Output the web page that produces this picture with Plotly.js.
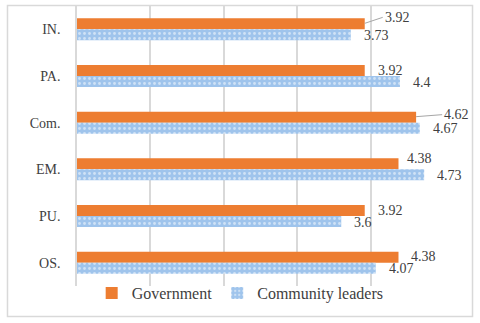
<!DOCTYPE html>
<html>
<head>
<meta charset="utf-8">
<script src="https://cdn.plot.ly/plotly-3.0.1.min.js"></script>
<style>
  html, body { margin: 0; padding: 0; background: #fff; }
  #graph { width: 480px; height: 323px; }
</style>
</head>
<body>
<div id="graph"></div>
<script>
// données
var categories = ['IN.', 'PA.', 'Com.', 'EM.', 'PU.', 'OS.'];
var government = [3.92, 3.92, 4.62, 4.38, 3.92, 4.38];
var leaders = [3.73, 4.4, 4.67, 4.73, 3.6, 4.07];

var orange = '#ed7d31';
var bleu = '#9fc4ec';
var texte = '#404040';
var police = 'Liberation Serif';

var data = [{
	type: 'bar',
	orientation: 'h',
	name: 'Government',
	y: categories,
	x: government,
	marker: {color: orange},
	hoverinfo: 'x+y'
}, {
	type: 'bar',
	orientation: 'h',
	name: 'Community leaders',
	y: categories,
	x: leaders,
	marker: {
		color: bleu,
		pattern: {shape: '.', fillmode: 'overlay', fgcolor: '#ffffff', size: 5, solidity: 0.25}
	},
	hoverinfo: 'x+y'
}];

// étiquettes de valeurs (décalages en pixels, repris de l'original)
var annotations = [];
var decalGov = {'IN.': [18, 12, true], 'Com.': [26, 8, true], 'EM.': [7, 11, false]};
categories.forEach(function(c, i) {
	var d = decalGov[c] || [11, 6, false];
	var a = {
		x: government[i], y: c, xref: 'x', yref: 'y',
		text: String(government[i]),
		xanchor: 'left', yanchor: 'middle',
		font: {family: police, size: 14, color: texte}
	};
	if (d[2]) {
		a.showarrow = true;
		a.arrowhead = 0;
		a.arrowwidth = 1;
		a.arrowcolor = '#a6a6a6';
		a.ax = d[0];
		a.ay = -(d[1] - 6);
		a.yshift = 6;
		a.standoff = 0;
	} else {
		a.showarrow = false;
		a.xshift = d[0];
		a.yshift = d[1];
	}
	annotations.push(a);
	annotations.push({
		x: leaders[i], y: c, xref: 'x', yref: 'y',
		text: String(leaders[i]),
		showarrow: false,
		xanchor: 'left', yanchor: 'middle',
		xshift: 11, yshift: -6,
		font: {family: police, size: 14, color: texte}
	});
});

var layout = {
	width: 480,
	height: 323,
	margin: {l: 77, r: 36, t: 6, b: 37},
	paper_bgcolor: '#ffffff',
	plot_bgcolor: '#ffffff',
	barmode: 'group',
	bargap: 0.53,
	bargroupgap: 0,
	font: {family: police, size: 14, color: texte},
	xaxis: {
		range: [0, 5],
		dtick: 1,
		showticklabels: false,
		showgrid: true,
		gridcolor: '#d9d9d9',
		gridwidth: 1.5,
		zeroline: false,
		fixedrange: true
	},
	yaxis: {
		type: 'category',
		autorange: 'reversed',
		showline: true,
		linecolor: '#d9d9d9',
		linewidth: 1.5,
		showgrid: false,
		ticks: '',
		ticklabelstandoff: 12,
		tickfont: {family: police, size: 14, color: texte},
		fixedrange: true
	},
	showlegend: true,
	legend: {
		orientation: 'h',
		x: 0.04, xanchor: 'left',
		y: -0.025, yanchor: 'middle',
		font: {family: police, size: 16, color: texte},
		itemwidth: 30,
		traceorder: 'normal',
		bgcolor: 'rgba(0,0,0,0)'
	},
	annotations: annotations,
	shapes: [{
		type: 'rect', xref: 'paper', yref: 'paper',
		x0: -0.1894, x1: 1.0777, y0: -0.109, y1: 1.0018,
		line: {color: '#d9d9d9', width: 1.5},
		fillcolor: 'rgba(0,0,0,0)'
	}]
};

Plotly.newPlot('graph', data, layout, {displayModeBar: false, displaylogo: false});
</script>
</body>
</html>
